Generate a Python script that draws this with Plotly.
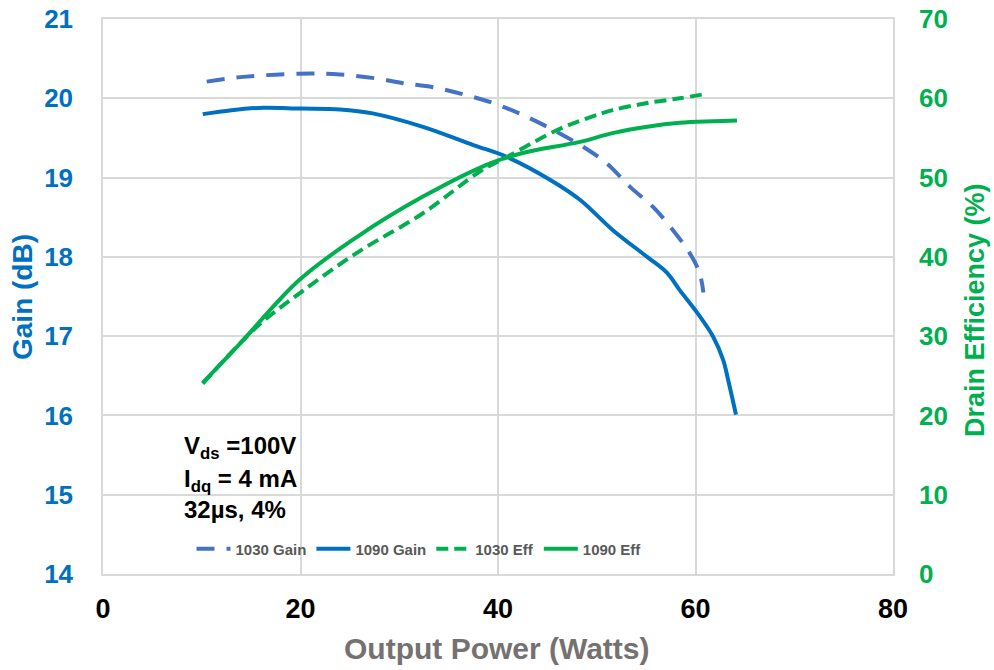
import plotly.graph_objects as go

# ---- data ----
x_gain_1030 = [10.5, 14.2, 19.9, 24.0, 27.7, 30.4, 33.4, 36.5, 39.5, 42.5, 45.6, 48.6, 51.0, 53.4, 55.7, 57.7, 59.4, 60.4, 60.8]
gain_1030 = [20.21, 20.27, 20.31, 20.30, 20.25, 20.19, 20.14, 20.05, 19.94, 19.79, 19.60, 19.39, 19.18, 18.88, 18.63, 18.34, 18.05, 17.80, 17.55]

x_gain_1090 = [10.1, 13.0, 16.2, 20.0, 24.0, 27.3, 32.4, 37.5, 40.9, 45.3, 48.3, 51.6, 55.1, 57.1, 58.4, 60.2, 61.8, 62.8, 63.3, 64.1]
gain_1090 = [19.80, 19.85, 19.88, 19.87, 19.86, 19.81, 19.64, 19.41, 19.26, 18.97, 18.72, 18.34, 18.00, 17.80, 17.58, 17.29, 16.99, 16.70, 16.45, 16.01]

x_eff_1030 = [10.1, 15.6, 19.9, 25.7, 32.4, 38.2, 40.9, 46.0, 49.3, 51.6, 55.1, 58.4, 60.8]
eff_1030 = [24.0, 31.2, 35.4, 40.5, 45.5, 50.8, 52.6, 56.0, 57.6, 58.5, 59.4, 60.0, 60.5]

x_eff_1090 = [10.1, 13.9, 19.9, 25.7, 32.4, 39.2, 42.5, 48.3, 51.6, 55.1, 58.4, 61.8, 64.2]
eff_1090 = [24.1, 29.1, 37.1, 42.5, 47.6, 51.8, 53.1, 54.5, 55.6, 56.4, 56.9, 57.1, 57.2]

series_names = ["1030 Gain", "1090 Gain", "1030 Eff", "1090 Eff"]
x_ticks = [0, 20, 40, 60, 80]
gain_ticks = [14, 15, 16, 17, 18, 19, 20, 21]
eff_ticks = [0, 10, 20, 30, 40, 50, 60, 70]
note_lines = ["V<sub>ds</sub> =100V", "I<sub>dq</sub> = 4 mA", "32µs, 4%"]

BLUE = "#0070C0"
BLUE_D = "#4472C4"
GREEN = "#00B050"
GRID = "#D9D9D9"
FONT = "Liberation Sans"

# body margin is removed by post_script, so the figure sits at (0, 0)
W, H = 994, 670
L, R, T, B = 103, 101, 19, 96
PW = W - L - R
PH = H - T - B


def py(p):  # screen pixel y -> paper
    return (H - B - p) / PH


def px(p):  # screen pixel x -> paper
    return (p - L) / PW


fig = go.Figure()
fig.add_trace(go.Scatter(x=x_gain_1030, y=gain_1030, name=series_names[0], mode="lines",
                         line=dict(color=BLUE_D, width=4, dash="18px,12px", shape="spline")))
fig.add_trace(go.Scatter(x=x_gain_1090, y=gain_1090, name=series_names[1], mode="lines",
                         line=dict(color=BLUE, width=4, shape="spline")))
fig.add_trace(go.Scatter(x=x_eff_1030, y=eff_1030, name=series_names[2], mode="lines", yaxis="y2",
                         line=dict(color=GREEN, width=4, dash="12px,6px", shape="spline")))
fig.add_trace(go.Scatter(x=x_eff_1090, y=eff_1090, name=series_names[3], mode="lines", yaxis="y2",
                         line=dict(color=GREEN, width=4, shape="spline")))

fig.update_layout(
    template="none",
    width=W, height=H,
    margin=dict(l=L, r=R, t=T, b=B, autoexpand=False),
    paper_bgcolor="white", plot_bgcolor="white",
    font=dict(family=FONT),
    xaxis=dict(range=[0, 80], tickvals=x_ticks, showgrid=True, gridcolor=GRID, gridwidth=1.5,
               showline=True, mirror=True, linecolor=GRID, linewidth=1.5, zeroline=False, ticks="",
               automargin=False, ticklabelstandoff=10, ticklabeloverflow="allow",
               tickfont=dict(size=27, color="black", weight="bold")),
    yaxis=dict(range=[14, 21], tickvals=gain_ticks, showgrid=True, gridcolor=GRID, gridwidth=1.5,
               showline=True, linecolor=GRID, linewidth=1.5, zeroline=False, ticks="",
               automargin=False, ticklabelstandoff=23, ticklabeloverflow="allow",
               tickfont=dict(size=26, color=BLUE, weight="bold")),
    yaxis2=dict(range=[0, 70], tickvals=eff_ticks, overlaying="y", side="right", showgrid=False,
                showline=True, linecolor=GRID, linewidth=1.5, zeroline=False, ticks="",
                automargin=False, ticklabelstandoff=19, ticklabeloverflow="allow",
                tickfont=dict(size=26, color=GREEN, weight="bold")),
    legend=dict(orientation="h", x=0.40, xanchor="center", y=py(549), yanchor="middle",
                bgcolor="rgba(0,0,0,0)", font=dict(size=15, color="#595959", weight="bold"),
                itemwidth=34, tracegroupgap=0),
    showlegend=True,
)

# axis titles
fig.add_annotation(text="Output Power (Watts)", xref="paper", yref="paper", x=px(497), y=py(648),
                   xanchor="center", yanchor="middle", showarrow=False,
                   font=dict(size=30, color="#767171", weight="bold"))
fig.add_annotation(text="Gain (dB)", xref="paper", yref="paper", x=px(22), y=py(297), textangle=-90,
                   xanchor="center", yanchor="middle", showarrow=False,
                   font=dict(size=28, color=BLUE, weight="bold"))
fig.add_annotation(text="Drain Efficiency (%)", xref="paper", yref="paper", x=px(975), y=py(310), textangle=-90,
                   xanchor="center", yanchor="middle", showarrow=False,
                   font=dict(size=27, color=GREEN, weight="bold"))

# white box behind note
fig.add_shape(type="rect", xref="paper", yref="paper", x0=px(173), x1=px(325), y0=py(528), y1=py(425),
              fillcolor="white", line=dict(width=0), layer="below")
for line_text, yc in zip(note_lines, [447, 480, 509]):
    fig.add_annotation(text=line_text, xref="paper", yref="paper", x=px(182), y=py(yc),
                       xanchor="left", yanchor="middle", showarrow=False, align="left",
                       font=dict(size=24, color="black", weight="bold"))

fig.write_html("out.html", config={"displayModeBar": False},
               post_script="document.body.style.margin='0';")
